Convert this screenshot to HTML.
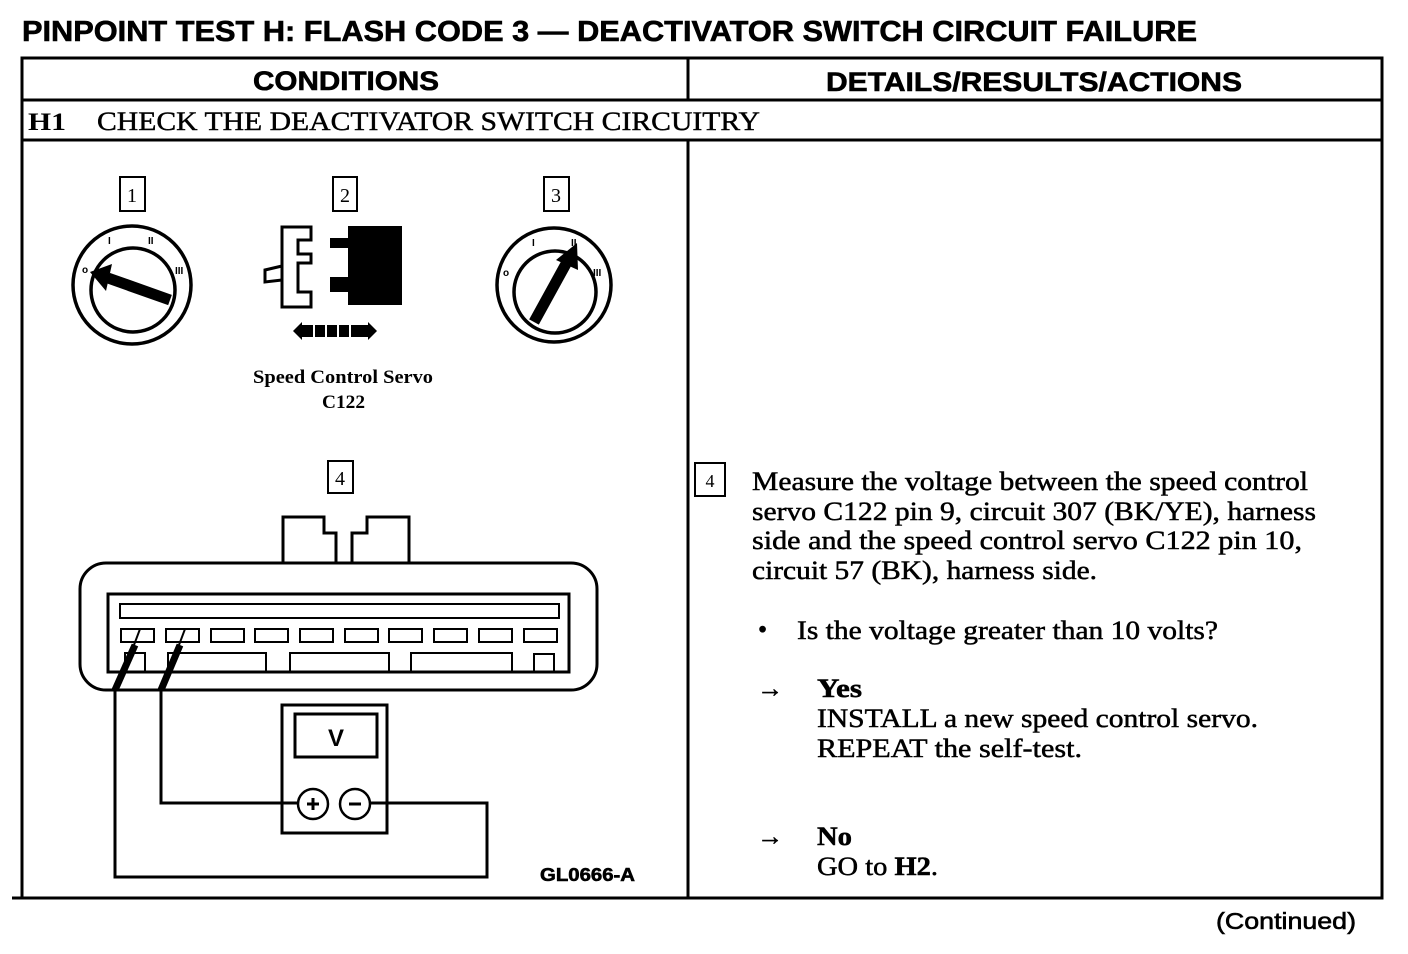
<!DOCTYPE html>
<html><head><meta charset="utf-8"><style>html,body{margin:0;padding:0;background:#fff}svg{display:block}</style></head><body>
<svg width="1408" height="954" viewBox="0 0 1408 954" xmlns="http://www.w3.org/2000/svg">
<g font-family="Liberation Sans, sans-serif" font-weight="bold" fill="#000" stroke="#000" stroke-width="0.6">
<text x="22" y="41" font-size="29" textLength="1175" lengthAdjust="spacingAndGlyphs">PINPOINT TEST H: FLASH CODE 3 — DEACTIVATOR SWITCH CIRCUIT FAILURE</text>
<text x="253" y="90" font-size="27" textLength="186" lengthAdjust="spacingAndGlyphs">CONDITIONS</text>
<text x="826" y="91" font-size="27" textLength="416" lengthAdjust="spacingAndGlyphs">DETAILS/RESULTS/ACTIONS</text>
<text x="1216" y="929" font-size="23" font-weight="normal" textLength="140" lengthAdjust="spacingAndGlyphs">(Continued)</text>
<text x="540" y="881" font-size="18" textLength="95" lengthAdjust="spacingAndGlyphs">GL0666-A</text>
</g>
<g fill="none" stroke="#000" stroke-width="3">
<rect x="22" y="58" width="1360" height="840"/>
<line x1="22" y1="100" x2="1382" y2="100"/>
<line x1="22" y1="140" x2="1382" y2="140"/>
<line x1="688" y1="58" x2="688" y2="100"/>
<line x1="688" y1="140" x2="688" y2="898"/>
<line x1="12" y1="898" x2="1372" y2="898"/>
</g>
<g font-family="Liberation Serif, serif" fill="#000">
<text x="28" y="130" font-size="25" font-weight="bold" textLength="38" lengthAdjust="spacingAndGlyphs">H1</text>
<text x="97" y="130" font-size="26" textLength="663" lengthAdjust="spacingAndGlyphs" stroke="#000" stroke-width="0.4">CHECK THE DEACTIVATOR SWITCH CIRCUITRY</text>
<text x="253" y="383" font-size="19" font-weight="bold" textLength="180" lengthAdjust="spacingAndGlyphs">Speed Control Servo</text>
<text x="322" y="408" font-size="19" font-weight="bold" textLength="43" lengthAdjust="spacingAndGlyphs">C122</text>
</g>
<g fill="none" stroke="#000" stroke-width="2">
<rect x="120" y="177" width="25" height="34"/><rect x="333" y="177" width="24" height="34"/><rect x="544" y="177" width="25" height="34"/>
<rect x="328" y="461" width="25" height="32"/><rect x="695" y="463" width="30" height="33"/>
</g>
<g font-family="Liberation Serif, serif" font-size="20" fill="#000" text-anchor="middle">
<text x="132" y="202">1</text><text x="345" y="202">2</text><text x="556" y="202">3</text><text x="340" y="485">4</text><text x="710" y="487" font-size="18">4</text>
</g>
<!-- switches -->
<g fill="none" stroke="#000" stroke-width="3.5">
<circle cx="132" cy="285" r="59"/><circle cx="133" cy="290" r="42"/>
<circle cx="554" cy="285" r="57"/><circle cx="555" cy="292" r="41"/>
</g>
<g stroke="#000" stroke-width="11">
<line x1="170" y1="300" x2="108" y2="278"/>
<line x1="534" y1="322" x2="567" y2="262"/>
</g>
<polygon points="90,272 112,264 106,291" fill="#000"/>
<polygon points="577,243 578,270 556,260" fill="#000"/>
<g font-family="Liberation Sans, sans-serif" font-size="10" font-weight="bold" fill="#000">
<text x="108" y="244">I</text><text x="148" y="244">II</text><text x="82" y="273">o</text><text x="175" y="274">III</text>
<text x="532" y="246">I</text><text x="571" y="246">II</text><text x="503" y="276">o</text><text x="593" y="276">III</text>
</g>
<!-- servo connector -->
<path d="M282,227 H311 V240 H298 V254 H311 V263 H298 V292 H311 V307 H282 Z" fill="none" stroke="#000" stroke-width="3"/>
<path d="M282,266 L265,270 L265,282 L282,280" fill="none" stroke="#000" stroke-width="3"/>
<path d="M348,226 H402 V305 H348 V292 H330 V277 H348 V248 H330 V238 H348 Z" fill="#000"/>
<polygon points="293,331 302,322 302,340" fill="#000"/><polygon points="377,331 368,322 368,340" fill="#000"/>
<rect x="302" y="325" width="66" height="12" fill="#000"/>
<g stroke="#fff" stroke-width="2"><line x1="314" y1="325" x2="314" y2="337"/><line x1="326" y1="325" x2="326" y2="337"/><line x1="338" y1="325" x2="338" y2="337"/><line x1="350" y1="325" x2="350" y2="337"/></g>
<!-- connector 4 -->
<g fill="none" stroke="#000" stroke-width="3">
<path d="M283,563 V517 H324 V533 H336 V563 M352,563 V533 H367 V517 H409 V563"/>
<rect x="80" y="563" width="517" height="127" rx="26"/>
<rect x="108" y="594" width="461" height="78"/>
<rect x="120" y="604" width="439" height="14" stroke-width="2"/>
<g stroke-width="2">
<rect x="121" y="629" width="33" height="13"/><rect x="166" y="629" width="33" height="13"/><rect x="211" y="629" width="33" height="13"/><rect x="255" y="629" width="33" height="13"/><rect x="300" y="629" width="33" height="13"/><rect x="345" y="629" width="33" height="13"/><rect x="389" y="629" width="33" height="13"/><rect x="434" y="629" width="33" height="13"/><rect x="479" y="629" width="33" height="13"/><rect x="524" y="629" width="33" height="13"/>
<path d="M125,672 V653 H145 V672 M168,672 V653 H266 V672 M290,672 V653 H389 V672 M411,672 V653 H512 V672 M534,672 V654 H554 V672"/>
</g>
<rect x="282" y="705" width="105" height="128"/>
<rect x="295" y="714" width="82" height="43"/>
<circle cx="313" cy="804" r="15" stroke-width="2.5"/><circle cx="355" cy="804" r="15" stroke-width="2.5"/>
<path d="M115,690 V877 H487 V803 H370"/>
<path d="M161,690 V803 H298"/>
</g>
<g stroke="#000" stroke-width="7"><line x1="135" y1="645" x2="115" y2="690"/><line x1="180" y1="645" x2="161" y2="690"/></g>
<g stroke="#000" stroke-width="2"><line x1="134" y1="645" x2="140" y2="629"/><line x1="179" y1="645" x2="185" y2="629"/></g>
<text x="336" y="746" font-family="Liberation Sans, sans-serif" font-size="24" font-weight="bold" text-anchor="middle">V</text>
<g stroke="#000" stroke-width="3"><line x1="307" y1="804" x2="319" y2="804"/><line x1="313" y1="798" x2="313" y2="810"/><line x1="349" y1="804" x2="361" y2="804"/></g>
<!-- right text -->
<g font-family="Liberation Serif, serif" font-size="26" fill="#000" stroke="#000" stroke-width="0.5">
<text x="752" y="490" textLength="556" lengthAdjust="spacingAndGlyphs">Measure the voltage between the speed control</text>
<text x="752" y="520" textLength="564" lengthAdjust="spacingAndGlyphs">servo C122 pin 9, circuit 307 (BK/YE), harness</text>
<text x="752" y="549" textLength="550" lengthAdjust="spacingAndGlyphs">side and the speed control servo C122 pin 10,</text>
<text x="752" y="579" textLength="345" lengthAdjust="spacingAndGlyphs">circuit 57 (BK), harness side.</text>
<text x="758" y="638">•</text>
<text x="797" y="639" textLength="421" lengthAdjust="spacingAndGlyphs">Is the voltage greater than 10 volts?</text>
<text x="757" y="697">→</text>
<text x="817" y="697" font-weight="bold" textLength="45" lengthAdjust="spacingAndGlyphs">Yes</text>
<text x="817" y="727" textLength="441" lengthAdjust="spacingAndGlyphs">INSTALL a new speed control servo.</text>
<text x="817" y="757" textLength="265" lengthAdjust="spacingAndGlyphs">REPEAT the self-test.</text>
<text x="757" y="845">→</text>
<text x="817" y="845" font-weight="bold" textLength="35" lengthAdjust="spacingAndGlyphs">No</text>
<text x="817" y="875" textLength="121" lengthAdjust="spacingAndGlyphs">GO to <tspan font-weight="bold">H2</tspan>.</text>
</g>
</svg>
</body></html>
